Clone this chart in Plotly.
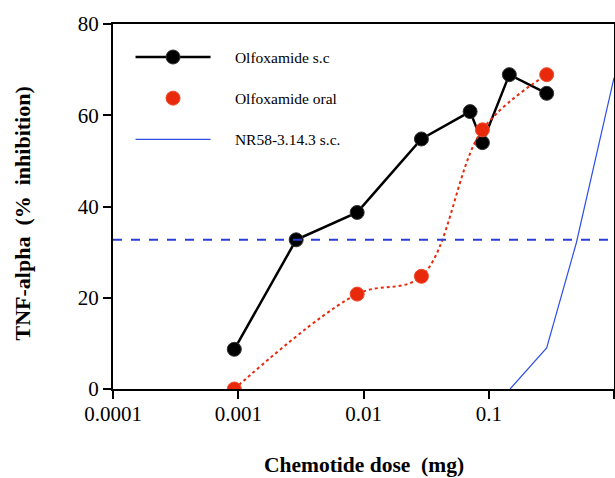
import plotly.graph_objects as go

# Data
sc_dose = [0.00093, 0.0029, 0.0089, 0.029, 0.071, 0.089, 0.146, 0.29]
sc_inhib = [8.7, 32.7, 38.7, 54.8, 60.8, 54.0, 68.9, 64.8]

oral_dose = [0.00093, 0.0089, 0.029, 0.089, 0.29]
oral_inhib = [0.0, 20.8, 24.7, 56.8, 68.9]

nr_dose = [0.148, 0.29, 0.5, 1.0]
nr_inhib = [0.0, 9.0, 32.0, 68.2]

ref_level = 32.7

x_tickvals = [0.0001, 0.001, 0.01, 0.1, 1]
x_ticktext = ["0.0001", "0.001", "0.01", "0.1", "1"]
y_tickvals = [0, 20, 40, 60, 80]

x_title = "Chemotide dose\u00a0\u00a0(mg)"
y_title = "TNF-alpha\u00a0\u00a0(%\u00a0\u00a0inhibition)"

SERIF = "Liberation Serif"
RED = "#e8290b"
BLUE = "#2f4fe6"
PAD = "\u00a0" * 5

fig = go.Figure()

fig.add_trace(go.Scatter(
    x=sc_dose, y=sc_inhib, mode="lines+markers", name=PAD + "Olfoxamide s.c",
    line=dict(color="black", width=2.5),
    marker=dict(color="black", size=14, line=dict(color="#333333", width=1)),
    legendgroup="a",
))
fig.add_trace(go.Scatter(
    x=oral_dose, y=oral_inhib, mode="lines", showlegend=False,
    line=dict(color=RED, width=2, dash="dot", shape="spline", smoothing=1.0),
    hoverinfo="skip",
))
fig.add_trace(go.Scatter(
    x=oral_dose, y=oral_inhib, mode="markers", name=PAD + "Olfoxamide oral",
    marker=dict(color=RED, size=14, line=dict(color="#f04a2a", width=1)),
    legendgroup="b",
))
fig.add_trace(go.Scatter(
    x=nr_dose, y=nr_inhib, mode="lines", name=PAD + "NR58-3.14.3 s.c.",
    line=dict(color=BLUE, width=1.2),
    legendgroup="c",
))

fig.add_shape(type="line", xref="paper", x0=0, x1=1, yref="y", y0=ref_level, y1=ref_level,
              line=dict(color="#2a3fd8", width=2, dash="dash"))

fig.add_annotation(text="<b>" + x_title + "</b>", xref="paper", yref="paper",
                   x=0.5, y=0, xanchor="center", yanchor="middle", yshift=-76,
                   showarrow=False, font=dict(family=SERIF, size=21.5, color="black"))
fig.add_annotation(text="<b>" + y_title + "</b>", xref="paper", yref="paper",
                   x=0, y=0.5, xanchor="center", yanchor="middle", xshift=-91, yshift=-7,
                   textangle=-90, showarrow=False,
                   font=dict(family=SERIF, size=22, color="black"))

fig.update_layout(
    width=615, height=478,
    margin=dict(l=113, r=1, t=24, b=89),
    plot_bgcolor="white", paper_bgcolor="white",
    font=dict(family=SERIF, color="black"),
    showlegend=True,
    legend=dict(
        x=0.035, y=0.955, xanchor="left", yanchor="top",
        bgcolor="rgba(0,0,0,0)", borderwidth=0,
        font=dict(family=SERIF, size=15.5, color="black"),
        itemwidth=75, traceorder="grouped", tracegroupgap=18,
    ),
    xaxis=dict(
        type="log", range=[-4, 0],
        tickvals=x_tickvals, ticktext=x_ticktext,
        ticks="outside", ticklen=8, tickwidth=2, tickcolor="black",
        showline=True, linewidth=2, linecolor="black", mirror=True,
        showgrid=False, zeroline=False, automargin=False,
        ticklabelstandoff=-3,
        tickfont=dict(family=SERIF, size=21, color="black"),
    ),
    yaxis=dict(
        range=[0, 80],
        tickvals=y_tickvals,
        ticks="outside", ticklen=8, tickwidth=2, tickcolor="black",
        showline=True, linewidth=2, linecolor="black", mirror=True,
        showgrid=False, zeroline=False, automargin=False,
        tickfont=dict(family=SERIF, size=21, color="black"),
    ),
)

fig.write_html("out.html", config={"displayModeBar": False},
               post_script="document.body.style.margin='0';")
